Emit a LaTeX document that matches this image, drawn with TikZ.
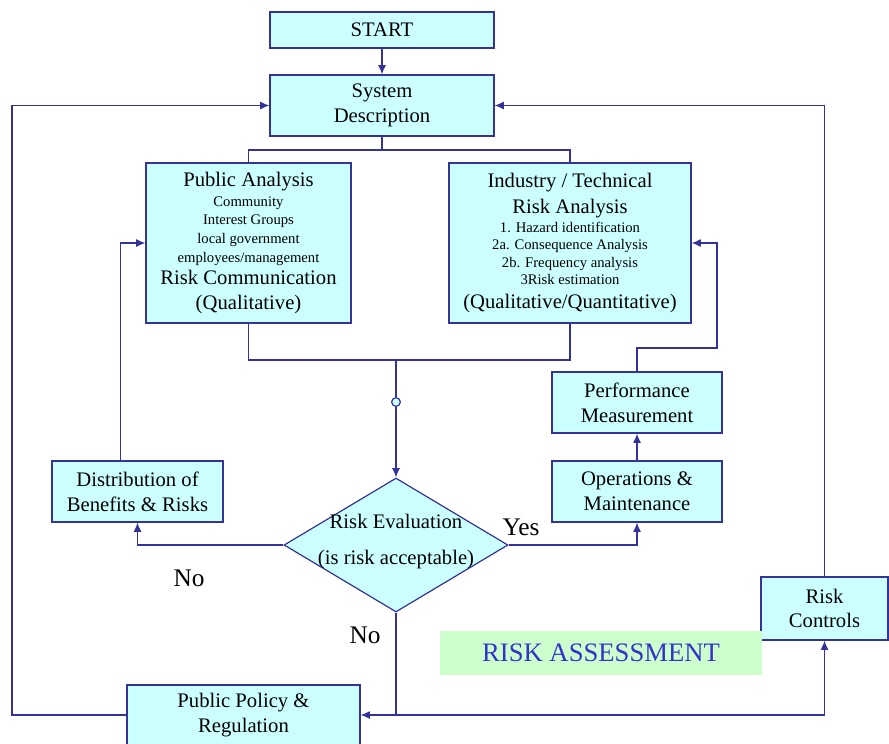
\documentclass[tikz,border=0pt]{standalone}
\usepackage{fontspec}
\setmainfont{Liberation Serif}
\usetikzlibrary{arrows.meta,shapes.geometric}
\definecolor{boxfill}{HTML}{CCFFFF}
\definecolor{boxline}{HTML}{333399}
\definecolor{assessfill}{HTML}{CCFFCC}
\definecolor{assesstext}{HTML}{3333CC}
\newcommand\bigtxt{\fontsize{15.5}{18.5}\selectfont}
\newcommand\smalltxt{\fontsize{11}{13.5}\selectfont}
\newcommand\labeltxt{\fontsize{19}{22}\selectfont}
\tikzset{
  box/.style={draw=boxline,fill=boxfill,line width=0.9pt,inner sep=0pt,align=center,font=\bigtxt},
  decision/.style={diamond,draw=boxline,fill=boxfill,line width=0.9pt,inner sep=0pt},
  flow/.style={draw=boxline,line width=0.9pt},
  arr/.style={flow,-{Latex[length=7pt,width=6pt]}},
  lbl/.style={font=\labeltxt,inner sep=0pt}
}
\begin{document}
\begin{tikzpicture}[x=0.75pt,y=-0.75pt]
      \useasboundingbox (0,0) rectangle (889,743);

      \node[box,minimum width=168pt,minimum height=27pt] (start) at (382,30) {START};
      \node[box,minimum width=168pt,minimum height=45.75pt] (sysdesc) at (382,105.5) {System\\Description};
      \node[box,minimum width=153.75pt,minimum height=120pt] (public) at (248.5,243)
        {Public Analysis\\[-3.5pt]\smalltxt Community\\[-4.5pt]\smalltxt Interest Groups\\[-4.5pt]\smalltxt local government\\[-4.5pt]\smalltxt employees/management\\[-1.5pt]Risk Communication\\(Qualitative)};
      \node[box,minimum width=181.5pt,minimum height=120pt] (industry) at (570,243)
        {Industry / Technical\\[1.5pt]Risk Analysis\\[-4.5pt]\smalltxt 1. Hazard identification\\[-5.5pt]\smalltxt 2a. Consequence Analysis\\[-5.5pt]\smalltxt 2b. Frequency analysis\\[-5.5pt]\smalltxt 3Risk estimation\\[-0.5pt](Qualitative/Quantitative)};
      \node[box,minimum width=128.25pt,minimum height=45.75pt] (distrib) at (137.5,491.5) {Distribution of\\Benefits \& Risks};
      \node[box,minimum width=127.5pt,minimum height=45.75pt] (perf) at (637,402.5) {Performance\\Measurement};
      \node[box,minimum width=127.5pt,minimum height=45.75pt] (ops) at (637,491.5) {Operations \&\\Maintenance};
      \node[box,minimum width=95.25pt,minimum height=47.25pt] (controls) at (824.5,608.5) {Risk\\Controls};
      \node[box,minimum width=174.75pt,minimum height=45pt] (policy) at (243.5,715) {Public Policy \&\\Regulation};
      \node[decision,minimum width=168pt,minimum height=100.5pt] (eval) at (396,545) {};
      \node[font=\bigtxt,inner sep=0pt] (evaltop) at (396,521) {Risk Evaluation};
      \node[font=\bigtxt,inner sep=0pt] (evalbot) at (396,560) {(is risk acceptable)};
      \node[fill=assessfill,text=assesstext,font=\fontsize{20}{24}\selectfont,minimum width=241.5pt,minimum height=33pt,inner sep=0pt] (assess) at (601,653) {RISK ASSESSMENT};
      \node[circle,draw=boxline,fill=boxfill,line width=0.9pt,minimum size=6.5pt,inner sep=0pt] (junc) at (396,402) {};

      \node[lbl] (yes) at (521,527) {Yes};
      \node[lbl] (noleft) at (189,578) {No};
      \node[lbl] (nodown) at (365,635) {No};

      \coordinate (splitT) at (382,150);
      \coordinate (splitB) at (396,360);
      \coordinate (fbR) at (717,348);
      \coordinate (loopL) at (12,400);
      \coordinate (evBot) at (eval.south |- policy.east);

      \draw[arr] (start) -- (sysdesc);
      \draw[flow] (sysdesc) -- (splitT);
      \draw[flow] (public.north) |- (splitT) -| (industry.north);
      \draw[flow] (public.south) |- (splitB) -| (industry.south);
      \draw[flow] (splitB) -- (junc);
      \draw[arr] (junc) -- (eval.north);
      \draw[arr] (eval.west) -| (distrib.south);
      \draw[arr] ([xshift=-13pt]distrib.north) |- (public.west);
      \draw[arr] (eval.east) -| (ops.south);
      \draw[arr] (ops) -- (perf);
      \draw[arr] (perf.north) |- (fbR) |- (industry.east);
      \draw[arr] (controls.north) |- (sysdesc.east);
      \draw[arr] (eval.south) |- (policy.east);
      \draw[arr] (evBot) -| (controls.south);
      \draw[arr] (policy.west) -| (loopL) |- (sysdesc.west);
\end{tikzpicture}
\end{document}
